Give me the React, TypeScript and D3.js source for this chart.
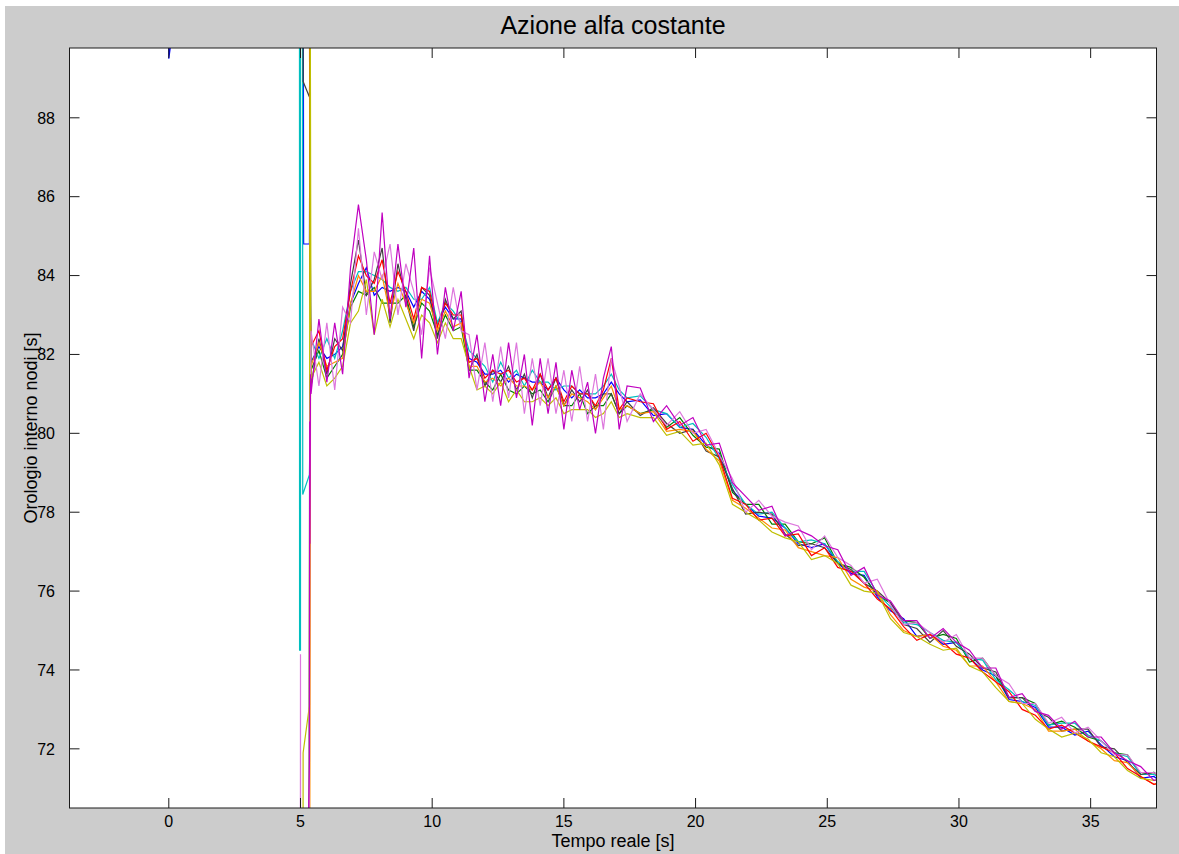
import React from "react";
import * as d3 from "d3";

// ---------- DATA ----------
const TITLE = "Azione alfa costante";
const X_LABEL = "Tempo reale [s]";
const Y_LABEL = "Orologio interno nodi [s]";
const X_TICKS = [0, 5, 10, 15, 20, 25, 30, 35];
const Y_TICKS = [72, 74, 76, 78, 80, 82, 84, 86, 88];
const X_DOMAIN = [-3.77, 37.5];
const Y_DOMAIN = [70.5, 89.77];

// common time grid of the synchronised phase
const TIMES = [
  5.4, 5.7, 6.0, 6.3, 6.6, 6.9, 7.2, 7.5, 7.8, 8.1, 8.4, 8.7, 9.0, 9.3, 9.6, 9.9, 10.2, 10.5, 10.8, 11.1,
  11.4, 11.7, 12.0, 12.3, 12.6, 12.9, 13.2, 13.5, 13.8, 14.1, 14.4, 14.7, 15.0, 15.3, 15.6, 15.9, 16.2, 16.5, 16.8, 17.1, 17.4,
  17.9, 18.4, 18.9, 19.4, 19.9, 20.4, 20.9, 21.4, 21.9, 22.4, 22.9, 23.4, 23.9, 24.4, 24.9, 25.4, 25.9, 26.4, 26.9, 27.4,
  27.9, 28.4, 28.9, 29.4, 29.9, 30.4, 30.9, 31.4, 31.9, 32.4, 32.9, 33.4, 33.9, 34.4, 34.9, 35.4, 35.9, 36.4, 36.9, 37.4, 37.7,
];

// centre of the bundle of node clocks
const CENTER = [
  82.0, 82.1, 81.9, 81.8, 82.3, 83.0, 83.6, 83.8, 83.4, 83.7, 83.3, 83.6, 83.4, 83.2, 83.3, 83.3, 82.9, 83.0, 82.9, 82.8,
  82.0, 81.6, 81.5, 81.4, 81.5, 81.3, 81.4, 81.2, 81.3, 81.2, 81.1, 81.2, 81.0, 80.9, 81.0, 80.8, 80.9, 80.8, 81.0, 80.9, 80.8,
  80.7, 80.5, 80.3, 80.2, 80.0, 79.8, 79.4, 78.5, 78.1, 78.0, 77.8, 77.5, 77.3, 77.1, 77.1, 76.8, 76.4, 76.3, 76.0, 75.5,
  75.2, 74.95, 74.85, 74.8, 74.6, 74.3, 74.1, 73.8, 73.4, 73.2, 72.95, 72.65, 72.55, 72.5, 72.4, 72.1, 71.9, 71.65, 71.4, 71.3, 71.25,
];

// deviation of each node from the centre, on the TIMES grid
const DEV_BLUE = [
  -0.2, 0.1, 0.0, 0.2, -0.1, 0.3, 0.2, 0.4, 0.1, 0.0, 0.3, 0.1, 0.2, 0.0, 0.3, 0.1, -0.1, 0.2, 0.0, 0.1,
  -0.1, 0.2, 0.0, 0.1, 0.1, 0.0, 0.1, 0.2, 0.0, 0.1, 0.0, 0.2, 0.1, 0.0, 0.1, 0.1, 0.0, 0.2, 0.3, 0.1, 0.0,
  0.15, -0.05, 0.2, -0.05, 0.1, -0.1, 0.1, 0.05, 0.1, -0.1, 0.05, 0.1, -0.1, 0.0, 0.1, -0.1, 0.05, 0.1, -0.15, 0.0,
  0.1, -0.1, 0.05, -0.15, 0.1, 0.0, -0.1, 0.05, -0.15, 0.0, 0.1, -0.1, 0.0, -0.15, 0.05, 0.0, -0.1, 0.05, -0.15, 0.0, -0.1,
];
const DEV_GREEN = [
  -0.4, 0.0, -0.5, -0.1, -0.3, 0.2, 0.0, -0.3, 0.3, -0.4, 0.0, -0.3, 0.1, -0.5, 0.0, -0.2, -0.4, 0.0, -0.3, -0.1,
  -0.4, 0.0, -0.2, -0.3, 0.0, -0.2, -0.4, 0.0, -0.3, -0.1, -0.3, 0.0, -0.3, -0.2, 0.0, -0.3, -0.2, -0.1, 0.0, -0.4, -0.1,
  -0.2, 0.1, -0.15, 0.2, -0.05, -0.15, 0.2, 0.0, 0.1, 0.2, -0.1, 0.2, -0.05, 0.1, 0.25, -0.1, 0.2, 0.05, -0.1, 0.2,
  0.05, 0.25, -0.05, 0.1, 0.2, -0.1, 0.2, 0.05, -0.1, 0.1, 0.2, -0.05, 0.15, 0.05, -0.1, 0.1, 0.0, 0.2, -0.05, 0.1, 0.0,
];
const DEV_CYAN = [
  0.4, -0.2, 0.5, 0.1, 0.3, 0.6, 0.5, 0.3, 0.6, 0.2, 0.4, 0.0, 0.3, 0.2, 0.1, 0.4, -0.1, 0.3, 0.2, 0.0,
  0.1, 0.3, 0.2, -0.1, 0.3, 0.1, 0.2, 0.0, 0.3, 0.1, 0.2, -0.1, 0.2, 0.3, 0.0, 0.2, 0.1, 0.4, 0.5, 0.2, 0.1,
  0.25, 0.1, 0.2, -0.05, 0.25, 0.1, -0.05, 0.2, 0.1, -0.05, 0.2, 0.1, -0.05, 0.2, 0.1, -0.05, 0.1, 0.2, -0.05, 0.1,
  0.0, 0.2, 0.1, -0.05, 0.1, 0.0, 0.15, -0.05, 0.1, 0.0, 0.15, -0.05, 0.1, 0.15, -0.05, 0.1, 0.0, 0.15, -0.05, 0.05, 0.0,
];
const DEV_DARK = [
  -0.8, 0.3, -0.4, 0.6, -0.2, 0.8, 1.3, -0.3, 0.5, 1.0, -0.5, 0.7, 0.0, -0.6, 0.4, 0.2, -0.5, 0.4, 0.0, 0.3,
  -0.4, 0.4, -0.3, 0.2, -0.2, 0.4, -0.3, 0.3, -0.4, 0.3, -0.2, 0.2, -0.3, 0.2, -0.2, 0.3, -0.3, 0.2, 0.0, -0.4, 0.0,
  -0.25, 0.15, -0.05, -0.2, 0.1, -0.25, 0.0, 0.1, -0.15, 0.0, 0.15, -0.05, -0.15, 0.1, 0.0, -0.1, 0.15, -0.1, 0.0, 0.2,
  -0.05, 0.1, -0.15, 0.2, 0.0, 0.1, -0.05, 0.15, -0.1, 0.1, 0.0, 0.15, -0.1, 0.0, 0.1, -0.05, 0.1, 0.0, -0.05, 0.1, 0.0,
];
const DEV_ORANGE = [
  -0.3, 0.2, -0.2, 0.0, -0.4, 0.3, 0.4, -0.2, 0.2, 0.3, -0.3, 0.2, -0.1, -0.4, 0.1, 0.0, -0.3, 0.1, -0.2, 0.0,
  -0.3, 0.1, -0.2, 0.0, -0.3, 0.1, -0.2, 0.0, -0.2, 0.1, -0.2, 0.0, -0.3, 0.1, -0.1, 0.0, -0.3, 0.1, 0.2, -0.3, -0.1,
  -0.2, 0.05, -0.25, -0.1, 0.05, -0.2, -0.1, -0.2, 0.0, -0.15, -0.2, 0.05, -0.2, -0.1, -0.2, 0.05, -0.1, -0.2, 0.0, -0.1,
  -0.2, -0.1, 0.05, -0.2, -0.1, -0.2, 0.0, -0.1, -0.2, -0.05, 0.05, -0.2, -0.1, 0.0, -0.2, -0.1, -0.2, 0.0, -0.1, -0.2, -0.1,
];
const DEV_RED = [
  0.2, 0.5, -0.3, 0.4, 0.1, 0.6, 0.9, 0.2, 0.4, 0.7, 0.0, 0.5, 0.2, -0.3, 0.4, 0.3, -0.2, 0.3, 0.1, 0.2,
  -0.2, 0.3, -0.1, 0.2, 0.0, 0.3, -0.1, 0.2, -0.2, 0.3, 0.0, 0.2, -0.2, 0.3, 0.0, 0.2, -0.2, 0.3, 0.9, -0.3, 0.1,
  0.1, 0.25, -0.2, 0.1, -0.2, 0.2, 0.0, -0.15, 0.1, -0.2, 0.05, -0.1, 0.15, -0.2, 0.0, -0.2, 0.1, -0.1, -0.2, 0.05,
  -0.1, -0.2, 0.05, -0.1, -0.2, 0.0, -0.15, -0.1, 0.05, -0.2, -0.1, -0.15, 0.05, -0.1, -0.2, -0.05, 0.0, -0.15, -0.1, -0.2, -0.1,
];
const DEV_YELLOW = [
  -0.6, -0.3, -0.7, -0.4, -0.6, -0.2, -0.5, 0.1, -0.9, -0.3, -0.6, -0.2, -0.5, -0.8, -0.3, -0.5, -0.6, -0.2, -0.5, -0.4,
  -0.3, -0.5, -0.3, -0.4, -0.2, -0.5, -0.3, -0.4, -0.5, -0.3, -0.4, -0.3, -0.5, -0.3, -0.4, -0.2, -0.5, -0.3, -0.2, -0.5, -0.3,
  -0.3, -0.1, -0.35, -0.15, -0.3, -0.05, -0.2, -0.3, -0.1, -0.2, -0.3, -0.15, -0.05, -0.3, -0.2, -0.1, -0.25, -0.3, -0.05, -0.2,
  -0.25, -0.1, -0.2, -0.3, -0.05, -0.2, -0.15, -0.25, -0.2, -0.05, -0.2, -0.15, -0.25, -0.1, -0.15, -0.2, -0.1, -0.2, -0.15, -0.1, -0.05,
];
const DEV_PINK = [
  0.6, -0.9, 0.9, -0.7, 0.9, -0.2, 1.6, -0.8, 1.2, 0.2, 1.5, -0.6, 0.9, 0.4, -0.8, 0.9, 0.4, -0.6, 0.8, -0.2,
  0.5, -0.5, 0.8, -0.6, 0.7, -0.4, 0.9, -0.7, 0.6, -0.5, 0.8, -0.7, 0.6, -0.6, 0.7, -0.5, 0.6, -0.7, 0.9, 0.3, -0.5,
  0.3, 0.1, -0.1, 0.35, 0.0, 0.3, 0.05, 0.35, -0.1, 0.3, 0.1, 0.25, 0.35, -0.05, 0.3, 0.05, 0.25, -0.1, 0.3, 0.15,
  -0.05, 0.25, 0.1, -0.1, 0.3, 0.0, 0.2, 0.05, 0.25, -0.05, 0.2, 0.0, 0.25, -0.1, 0.15, 0.1, -0.05, 0.2, 0.0, 0.1, 0.0,
];
const DEV_MAGENTA = [
  -1.0, 0.8, -0.6, 1.0, -0.8, 1.2, 2.2, 0.6, -0.9, 1.9, -0.4, 1.2, -0.2, 1.5, -1.4, 1.2, -0.9, 0.7, -0.3, 0.8,
  -0.6, 0.9, -0.7, 0.6, -0.8, 1.0, -0.5, 0.8, -1.1, 0.7, -0.6, 0.6, -0.9, 0.7, -0.4, 0.5, -0.9, 0.6, 1.2, -0.8, 0.4,
  0.45, -0.2, 0.4, 0.0, 0.4, -0.1, 0.35, 0.25, 0.3, 0.05, 0.35, -0.1, 0.25, 0.3, 0.05, 0.25, 0.0, 0.3, -0.1, 0.25,
  0.05, 0.3, -0.05, 0.25, 0.1, 0.2, -0.05, 0.25, -0.1, 0.2, 0.0, 0.2, -0.05, 0.2, -0.1, 0.2, 0.0, 0.05, 0.15, -0.1, 0.0,
];

// start-up transients of each node before synchronisation: [time, clock]
const START_BLUE = [[-3.9, 95], [-0.01, 95], [0.0, 89.5], [0.3, 91.0], [5.1, 95], [5.12, 84.8], [5.34, 84.8], [5.35, 87.3]];
const START_GREEN = [[4.0, 60], [5.3, 60], [5.35, 81.0]];
const START_CYAN = [[4.0, 95], [4.96, 95], [4.965, 74.5], [5.0, 74.5], [5.005, 95], [5.08, 95], [5.085, 78.45], [5.34, 78.95]];
const START_DARK = [[4.0, 95], [5.095, 95], [5.1, 88.92], [5.34, 88.53], [5.35, 89.13], [5.36, 84.8]];
const START_ORANGE = [[4.0, 60], [5.33, 60], [5.38, 81.0]];
const START_RED = [[4.0, 95], [5.33, 95], [5.36, 83.5]];
const START_YELLOW = [[4.0, 60], [5.09, 60], [5.1, 71.9], [5.34, 73.1], [5.36, 95]];
const START_PINK = [[4.0, 60], [4.99, 60], [5.0, 74.4], [5.01, 60], [5.3, 60], [5.35, 79.0]];
const START_MAGENTA = [[4.0, 60], [5.2, 60], [5.3, 70.0], [5.34, 71.7], [5.35, 80.3], [5.36, 77.2], [5.38, 81.5]];

const SERIES_NAMES = ["blue", "green", "cyan", "dark", "orange", "red", "yellow", "pink", "magenta"];
const SERIES_COLORS = ["#0000ff", "#008000", "#00bfbf", "#404040", "#ff8c00", "#ff0000", "#bfbf00", "#dd77dd", "#c000c0"];
const SERIES_DEVS = [DEV_BLUE, DEV_GREEN, DEV_CYAN, DEV_DARK, DEV_ORANGE, DEV_RED, DEV_YELLOW, DEV_PINK, DEV_MAGENTA];
const SERIES_STARTS = [START_BLUE, START_GREEN, START_CYAN, START_DARK, START_ORANGE, START_RED, START_YELLOW, START_PINK, START_MAGENTA];

// ---------- LAYOUT ----------
const W = 1179;
const H = 854;
const PLOT = { left: 69.5, right: 1156.5, top: 48, bottom: 808 };
const TICK = 10;
const FONT = "'Liberation Sans', Arial, Helvetica, sans-serif";

export default function App() {
  const x = d3.scaleLinear().domain(X_DOMAIN).range([PLOT.left, PLOT.right]);
  const y = d3.scaleLinear().domain(Y_DOMAIN).range([PLOT.bottom, PLOT.top]);
  const line = d3
    .line<number[]>()
    .x((d) => x(d[0]))
    .y((d) => y(d[1]));

  const series = SERIES_NAMES.map((name, i) => {
    const pts: number[][] = SERIES_STARTS[i].map((p) => [p[0], p[1]]);
    TIMES.forEach((t, k) => pts.push([t, CENTER[k] + SERIES_DEVS[i][k]]));
    return { name, color: SERIES_COLORS[i], pts };
  });

  return (
    <svg
      width={W}
      height={H}
      style={{ position: "absolute", left: 0, top: 0, background: "#ffffff" }}
      fontFamily={FONT}
    >
      <defs>
        <clipPath id="plotClip">
          <rect x={PLOT.left} y={PLOT.top} width={PLOT.right - PLOT.left} height={PLOT.bottom - PLOT.top} />
        </clipPath>
      </defs>
      <rect x={5} y={6} width={W - 5} height={H - 6} fill="#cccccc" />
      <rect x={PLOT.left} y={PLOT.top} width={PLOT.right - PLOT.left} height={PLOT.bottom - PLOT.top} fill="#ffffff" />

      <g clipPath="url(#plotClip)">
        {series.map((s) => (
          <path key={s.name} d={line(s.pts) || ""} fill="none" stroke={s.color} strokeWidth={1.2} strokeLinejoin="miter" />
        ))}
      </g>

      {/* ticks */}
      <g stroke="#1a1a1a" strokeWidth={1}>
        {X_TICKS.map((t) => (
          <g key={"xt" + t}>
            <line x1={x(t)} x2={x(t)} y1={PLOT.bottom} y2={PLOT.bottom - TICK} />
            <line x1={x(t)} x2={x(t)} y1={PLOT.top} y2={PLOT.top + TICK} />
          </g>
        ))}
        {Y_TICKS.map((v) => (
          <g key={"yt" + v}>
            <line x1={PLOT.left} x2={PLOT.left + TICK} y1={y(v)} y2={y(v)} />
            <line x1={PLOT.right} x2={PLOT.right - TICK} y1={y(v)} y2={y(v)} />
          </g>
        ))}
      </g>
      <rect
        x={PLOT.left}
        y={PLOT.top}
        width={PLOT.right - PLOT.left}
        height={PLOT.bottom - PLOT.top}
        fill="none"
        stroke="#1a1a1a"
        strokeWidth={1}
      />

      {/* tick labels */}
      <g fontSize={16} fill="#000000">
        {X_TICKS.map((t) => (
          <text key={"xl" + t} x={x(t)} y={827} textAnchor="middle">
            {t}
          </text>
        ))}
        {Y_TICKS.map((v) => (
          <text key={"yl" + v} x={55} y={y(v) + 5.8} textAnchor="end">
            {v}
          </text>
        ))}
      </g>

      {/* labels */}
      <text x={(PLOT.left + PLOT.right) / 2} y={34} textAnchor="middle" fontSize={25} fill="#000000">
        {TITLE}
      </text>
      <text x={(PLOT.left + PLOT.right) / 2} y={847} textAnchor="middle" fontSize={18} fill="#000000">
        {X_LABEL}
      </text>
      <text
        transform={`translate(37, ${(PLOT.top + PLOT.bottom) / 2}) rotate(-90)`}
        textAnchor="middle"
        fontSize={18}
        fill="#000000"
      >
        {Y_LABEL}
      </text>
    </svg>
  );
}
